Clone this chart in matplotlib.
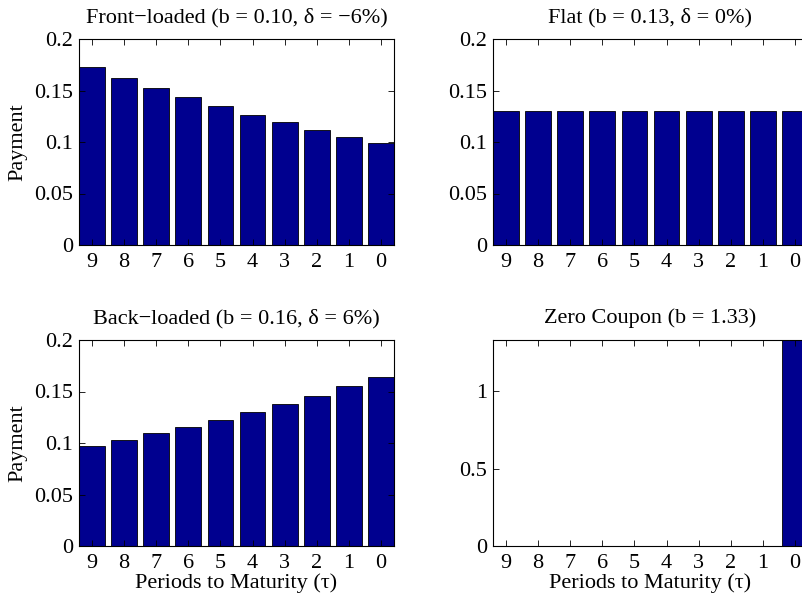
import matplotlib
matplotlib.use("Agg")
import matplotlib.pyplot as plt
from matplotlib.ticker import FuncFormatter

plt.rcParams['font.family'] = ['Liberation Serif', 'DejaVu Serif']
plt.rcParams['mathtext.fontset'] = 'stix'

periods = ["9", "8", "7", "6", "5", "4", "3", "2", "1", "0"]
front_loaded = [0.1725, 0.1618, 0.1521, 0.1434, 0.1346, 0.1265, 0.1191, 0.1117, 0.1052, 0.0987]
flat = [0.13, 0.13, 0.13, 0.13, 0.13, 0.13, 0.13, 0.13, 0.13, 0.13]
back_loaded = [0.0974, 0.1029, 0.1094, 0.1159, 0.1227, 0.1302, 0.1380, 0.1461, 0.1552, 0.1643]
zero_coupon = [0, 0, 0, 0, 0, 0, 0, 0, 0, 1.33]

titles = ["Front\u2212loaded (b = 0.10, \u03b4 = \u22126%)",
          "Flat (b = 0.13, \u03b4 = 0%)",
          "Back\u2212loaded (b = 0.16, \u03b4 = 6%)",
          "Zero Coupon (b = 1.33)"]
series = [front_loaded, flat, back_loaded, zero_coupon]
ylims = [(0, 0.2), (0, 0.2), (0, 0.2), (0, 1.33)]
yticks = [[0, 0.05, 0.1, 0.15, 0.2]] * 3 + [[0, 0.5, 1]]

W, H = 802, 594
fig = plt.figure(figsize=(W / 100, H / 100), dpi=100)

# axes rectangles in pixels: left, top, right, bottom
rects = [(79, 39, 394, 245), (493, 39, 808, 245),
         (79, 340, 394, 546), (493, 340, 808, 546)]

bar_color = (0, 0, 0.5625)

def fmt(v, pos):
    return "%g" % v

for i, (l, t, r, b) in enumerate(rects):
    ax = fig.add_axes([l / W, 1 - b / H, (r - l) / W, (b - t) / H])
    x = list(range(1, len(periods) + 1))
    ax.bar(x, series[i], width=0.8, color=bar_color, edgecolor='black', linewidth=0.6)
    ax.set_xlim(0.6, 10.4)
    ax.set_ylim(*ylims[i])
    ax.set_xticks(x)
    ax.set_xticklabels(periods)
    ax.set_yticks(yticks[i])
    ax.yaxis.set_major_formatter(FuncFormatter(fmt))
    ax.tick_params(direction='in', length=4, width=0.6, top=True, right=True,
                   labelsize=16, pad=4)
    ax.tick_params(axis='x', pad=6)
    for sp in ax.spines.values():
        sp.set_linewidth(0.8)
    ax.set_title(titles[i], fontsize=16, pad=12)
    if i in (0, 2):
        ax.set_ylabel("Payment", fontsize=16, labelpad=5)
    if i in (2, 3):
        ax.set_xlabel("Periods to Maturity (\u03c4)", fontsize=16, labelpad=0)

fig.savefig("out.png", dpi=100)
